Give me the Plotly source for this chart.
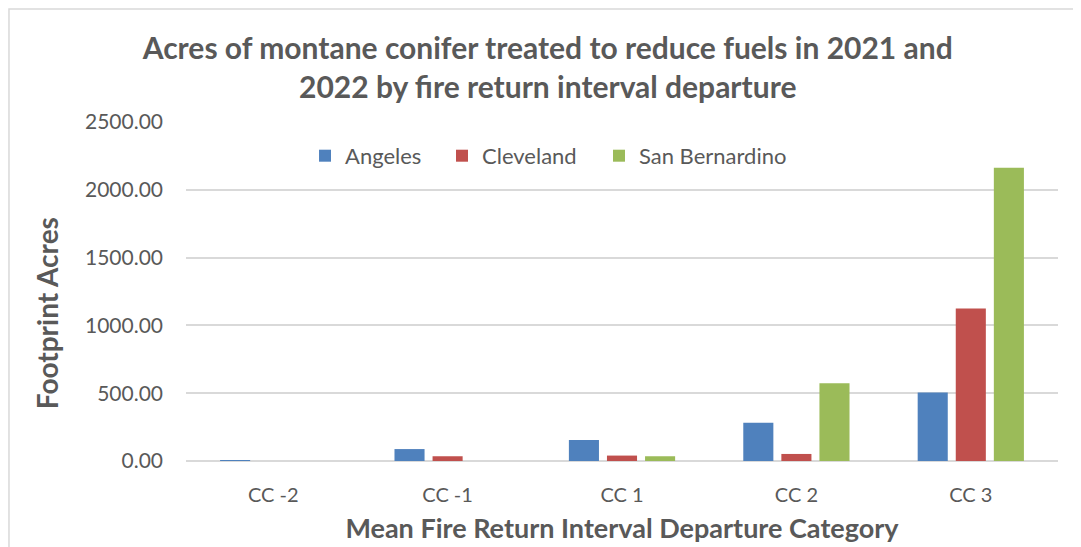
import plotly.graph_objects as go

# Datos
categorias = ['CC -2', 'CC -1', 'CC 1', 'CC 2', 'CC 3']
angeles = [5, 88, 155, 282, 506]
cleveland = [0, 35, 40, 52, 1125]
san_bernardino = [0, 0, 35, 573, 2162]
y_ticks = [0, 500, 1000, 1500, 2000, 2500]

COLORES = {
    'Angeles': '#4F81BD',
    'Cleveland': '#C0504D',
    'San Bernardino': '#9BBB59',
}
GRIS = '#595959'
FUENTE = 'Lato, Carlito, Calibri, sans-serif'

series = {'Angeles': angeles, 'Cleveland': cleveland, 'San Bernardino': san_bernardino}
# Una leyenda por serie para reproducir el espaciado del original
leyendas = {'Angeles': ('legend', 0.1365), 'Cleveland': ('legend2', 0.2936),
            'San Bernardino': ('legend3', 0.4736)}

fig = go.Figure()
for nombre, valores in series.items():
    fig.add_trace(go.Bar(
        x=categorias,
        y=valores,
        name=nombre,
        legend=leyendas[nombre][0],
        marker=dict(color=COLORES[nombre], line=dict(width=0)),
    ))

# El body de la página tiene 8px de margen: se compensa aquí
fig.update_layout(
    width=1073,
    height=539,
    barmode='group',
    bargap=0.345,
    bargroupgap=0.21,
    margin=dict(l=178, r=23, t=114, b=86),
    paper_bgcolor='white',
    plot_bgcolor='white',
    font=dict(family=FUENTE, color=GRIS, size=20),
    title=dict(
        text='Acres of montane conifer treated to reduce fuels in 2021 and<br>2022 by fire return interval departure',
        font=dict(family=FUENTE, size=30, color=GRIS, weight='bold'),
        x=0.503, xanchor='center',
        y=0.906, yanchor='middle',
    ),
    showlegend=True,
)
for nombre, (ley, xpos) in leyendas.items():
    fig.update_layout({ley: dict(
        orientation='h',
        x=xpos, xanchor='left',
        y=0.9, yanchor='middle',
        font=dict(size=22, color=GRIS),
        bgcolor='rgba(0,0,0,0)',
    )})

fig.update_xaxes(
    automargin=False,
    showgrid=False,
    showline=False,
    ticks='',
    ticklabelstandoff=20,
    tickfont=dict(size=20, color=GRIS),
    title=dict(text='Mean Fire Return Interval Departure Category',
               font=dict(size=27, color=GRIS, weight='bold'), standoff=14),
)
fig.update_yaxes(
    automargin=False,
    range=[0, 2500],
    tickvals=y_ticks,
    tickformat='.2f',
    showgrid=True,
    gridcolor='#D9D9D9',
    gridwidth=1.5,
    zeroline=True,
    zerolinecolor='#D9D9D9',
    zerolinewidth=1.5,
    ticks='',
    ticklabelstandoff=22,
    tickfont=dict(size=21, color=GRIS),
)

# Título del eje Y, algo más abajo que el centro, como en el original
fig.add_annotation(
    text='<b>Footprint Acres</b>', textangle=-90,
    xref='paper', yref='paper', x=-0.159, y=0.437,
    xanchor='center', yanchor='middle', showarrow=False,
    font=dict(size=28, color=GRIS, family=FUENTE),
)

# Borde del área del gráfico
fig.add_shape(
    type='rect', xref='paper', yref='paper',
    x0=-0.203, x1=1.2, y0=-0.4, y1=1.333,
    line=dict(color='#D9D9D9', width=1.5),
    layer='below',
)

fig.write_html('out.html')
